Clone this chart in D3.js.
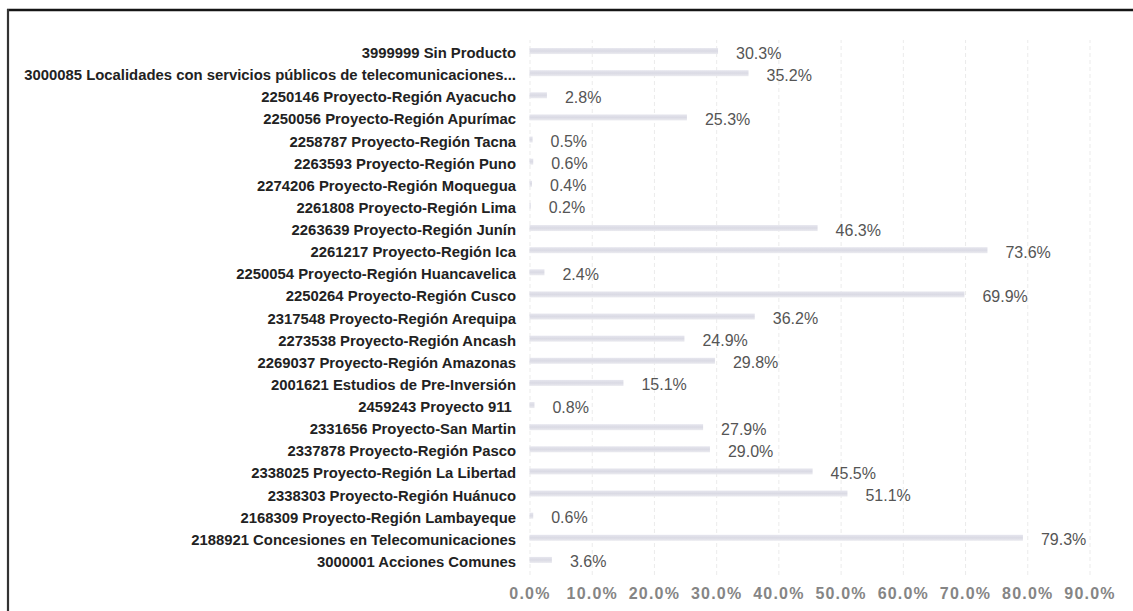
<!DOCTYPE html>
<html>
<head>
<meta charset="utf-8">
<script src="https://cdn.jsdelivr.net/npm/d3@7"></script>
<style>
  html, body { margin: 0; padding: 0; background: #fff; }
  svg { display: block; }
</style>
</head>
<body>
<svg id="chart" width="1133" height="611"></svg>
<script>
const categories = [
  "3999999 Sin Producto",
  "3000085 Localidades con servicios públicos de telecomunicaciones...",
  "2250146 Proyecto-Región Ayacucho",
  "2250056 Proyecto-Región Apurímac",
  "2258787 Proyecto-Región Tacna",
  "2263593 Proyecto-Región Puno",
  "2274206 Proyecto-Región Moquegua",
  "2261808 Proyecto-Región Lima",
  "2263639 Proyecto-Región Junín",
  "2261217 Proyecto-Región Ica",
  "2250054 Proyecto-Región Huancavelica",
  "2250264 Proyecto-Región Cusco",
  "2317548 Proyecto-Región Arequipa",
  "2273538 Proyecto-Región Ancash",
  "2269037 Proyecto-Región Amazonas",
  "2001621 Estudios de Pre-Inversión",
  "2459243 Proyecto 911 ",
  "2331656 Proyecto-San Martin",
  "2337878 Proyecto-Región Pasco",
  "2338025 Proyecto-Región La Libertad",
  "2338303 Proyecto-Región Huánuco",
  "2168309 Proyecto-Región Lambayeque",
  "2188921 Concesiones en Telecomunicaciones",
  "3000001 Acciones Comunes"
];
const values = [30.3, 35.2, 2.8, 25.3, 0.5, 0.6, 0.4, 0.2, 46.3, 73.6, 2.4, 69.9, 36.2, 24.9, 29.8, 15.1, 0.8, 27.9, 29.0, 45.5, 51.1, 0.6, 79.3, 3.6];
const tickValues = [0, 10, 20, 30, 40, 50, 60, 70, 80, 90];
const tickLabels = ["0.0%", "10.0%", "20.0%", "30.0%", "40.0%", "50.0%", "60.0%", "70.0%", "80.0%", "90.0%"];

const svg = d3.select("#chart");
const data = categories.map((c, i) => ({ c, v: values[i] }));

const x = d3.scaleLinear().domain([0, 90]).range([529.5, 1089.5]);
const y = d3.scaleBand().domain(categories).range([42, 573]).padding(0);

// gradient for bars
const defs = svg.append("defs");
const grad = defs.append("linearGradient").attr("id", "barGrad")
  .attr("x1", 0).attr("y1", 0).attr("x2", 0).attr("y2", 1);
grad.append("stop").attr("offset", "0%").attr("stop-color", "#e6e6ee");
grad.append("stop").attr("offset", "50%").attr("stop-color", "#dadae4");
grad.append("stop").attr("offset", "100%").attr("stop-color", "#ebebf0");

// frame
svg.append("line").attr("x1", 7).attr("x2", 1133).attr("y1", 10).attr("y2", 10)
  .attr("stroke", "#151515").attr("stroke-width", 2.5);
svg.append("line").attr("x1", 8).attr("x2", 8).attr("y1", 9).attr("y2", 611)
  .attr("stroke", "#333").attr("stroke-width", 2.2);

// gridlines
const grid = svg.append("g").attr("transform", "translate(0,575)")
  .call(d3.axisBottom(x).tickValues(tickValues).tickSize(-535).tickFormat(""));
grid.select(".domain").remove();
grid.selectAll(".tick line").attr("stroke", "#ebebeb").attr("stroke-width", 1)
  .attr("stroke-dasharray", "4,3");

// bars
const bc = y.bandwidth() / 2;
svg.append("g").selectAll("rect").data(data).join("rect")
  .attr("x", x(0))
  .attr("y", d => y(d.c) + bc - 5)
  .attr("width", d => x(d.v) - x(0))
  .attr("height", 6)
  .attr("fill", "url(#barGrad)");

// value labels
svg.append("g").selectAll("text").data(data).join("text")
  .attr("x", d => x(d.v) + 18)
  .attr("y", d => y(d.c) + bc)
  .attr("dominant-baseline", "central")
  .attr("font-family", "'Liberation Sans', Arial, sans-serif")
  .attr("font-size", 16)
  .attr("fill", "#555")
  .text(d => d.v.toFixed(1) + "%");

// category axis
const yAxis = svg.append("g").attr("transform", "translate(516,0)")
  .call(d3.axisLeft(y).tickSize(0).tickPadding(0));
yAxis.select(".domain").remove();
yAxis.selectAll("text")
  .attr("font-family", "'Liberation Sans', Arial, sans-serif")
  .attr("font-size", 14.85)
  .attr("font-weight", "bold")
  .attr("fill", "#222")
  .attr("dy", null)
  .attr("dominant-baseline", "central")
  .style("white-space", "pre");

// x axis labels
const xAxis = svg.append("g").attr("transform", "translate(0,575)")
  .call(d3.axisBottom(x).tickValues(tickValues).tickSize(0)
    .tickFormat((d, i) => tickLabels[i]));
xAxis.select(".domain").remove();
xAxis.selectAll("text")
  .attr("y", 18)
  .attr("dy", null)
  .attr("dominant-baseline", "central")
  .attr("font-family", "'Liberation Sans', Arial, sans-serif")
  .attr("font-size", 16)
  .attr("font-weight", "bold")
  .attr("letter-spacing", "1.2px")
  .attr("fill", "#858585");
</script>
</body>
</html>
